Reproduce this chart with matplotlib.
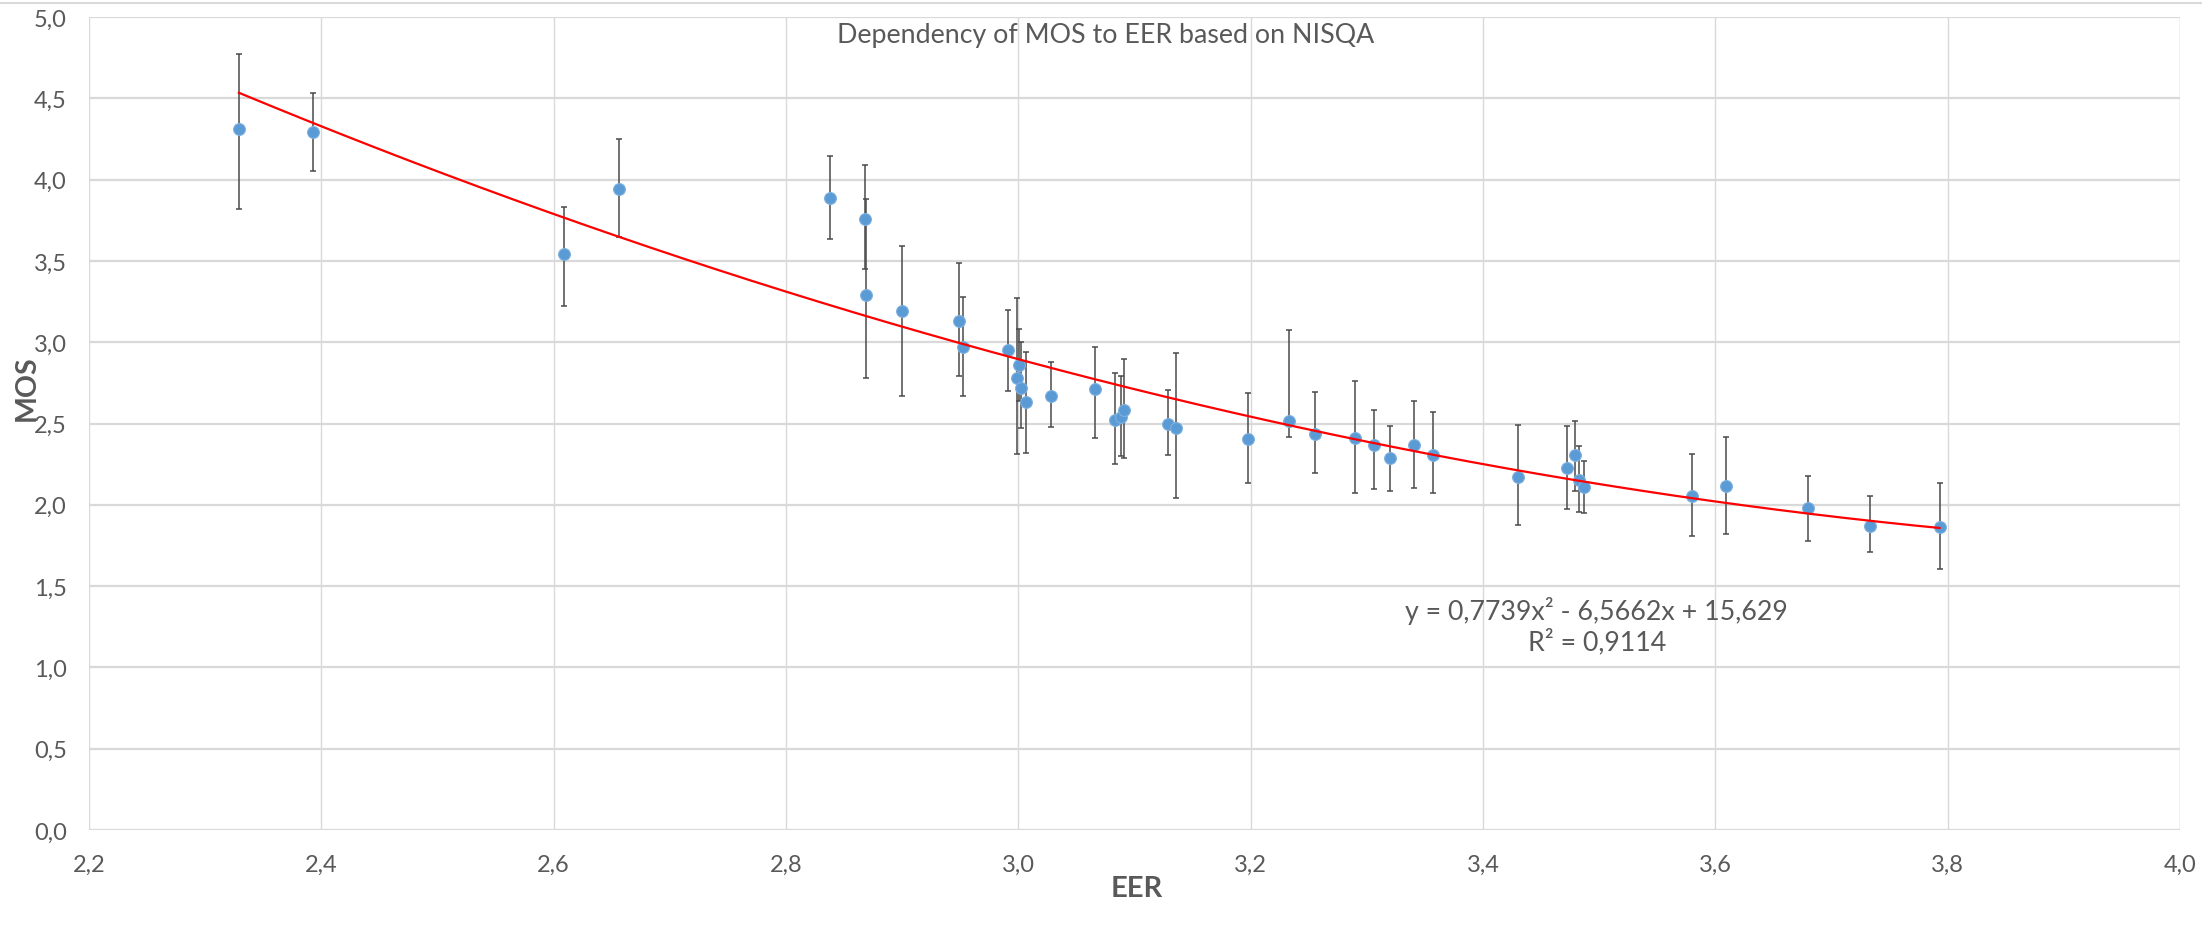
# MOS vs EER (NISQA) scatter with error bars and a 2nd order trend line

import numpy as np
from matplotlib import pyplot as plt
from matplotlib.lines import Line2D

plt.rcParams['font.family'] = ['Lato', 'DejaVu Sans']

# data
eer = [2.329, 2.393, 2.609, 2.656, 2.838, 2.868, 2.869, 2.900, 2.949, 2.952,
       2.991, 3.001, 2.999, 3.002, 3.007, 3.028, 3.066, 3.083, 3.088, 3.091,
       3.129, 3.136, 3.198, 3.233, 3.255, 3.290, 3.306, 3.320, 3.341, 3.357,
       3.430, 3.472, 3.479, 3.483, 3.487, 3.580, 3.609, 3.680, 3.733, 3.793]
mos = [4.31, 4.29, 3.54, 3.94, 3.885, 3.76, 3.29, 3.19, 3.13, 2.97,
       2.95, 2.86, 2.78, 2.72, 2.63, 2.67, 2.71, 2.52, 2.54, 2.585,
       2.495, 2.47, 2.405, 2.515, 2.433, 2.413, 2.37, 2.286, 2.366, 2.308,
       2.173, 2.226, 2.306, 2.154, 2.111, 2.056, 2.114, 1.978, 1.872, 1.865]
err_up = [0.46, 0.24, 0.29, 0.31, 0.26, 0.33, 0.59, 0.40, 0.36, 0.31,
          0.25, 0.22, 0.49, 0.28, 0.31, 0.21, 0.26, 0.29, 0.25, 0.31,
          0.21, 0.465, 0.28, 0.56, 0.26, 0.35, 0.215, 0.20, 0.27, 0.26,
          0.32, 0.26, 0.21, 0.21, 0.16, 0.255, 0.305, 0.20, 0.18, 0.27]
err_down = [0.49, 0.24, 0.32, 0.29, 0.25, 0.31, 0.51, 0.52, 0.34, 0.30,
            0.25, 0.22, 0.47, 0.25, 0.31, 0.19, 0.30, 0.27, 0.24, 0.30,
            0.19, 0.43, 0.27, 0.10, 0.24, 0.34, 0.27, 0.20, 0.26, 0.235,
            0.30, 0.25, 0.22, 0.20, 0.16, 0.25, 0.295, 0.20, 0.16, 0.26]

# trend line coefficients as printed on the chart
coef = [0.7739, -6.5662, 15.629]
r2 = 0.9114

x_ticks = [2.2, 2.4, 2.6, 2.8, 3.0, 3.2, 3.4, 3.6, 3.8, 4.0]
y_ticks = [0.0, 0.5, 1.0, 1.5, 2.0, 2.5, 3.0, 3.5, 4.0, 4.5, 5.0]

grey = '#595959'
grid_col = '#d9d9d9'

fig = plt.figure(figsize=(22.02, 9.37), dpi=100)
ax = fig.add_axes([89/2202, 1 - 831/937, (2180-89)/2202, (831-18)/937])

ax.errorbar(eer, mos, yerr=[err_down, err_up], fmt='none', ecolor='#4a4a4a',
            elinewidth=1.1, capsize=2.4, capthick=1.1, zorder=2)
ax.plot(eer, mos, 'o', color='#5b9bd5', markersize=8.5, markeredgecolor='#7eb0de',
        markeredgewidth=0.8, zorder=3)

xs = np.linspace(min(eer), max(eer), 200)
ax.plot(xs, np.polyval(coef, xs), color='#ff0000', lw=1.6, zorder=4)

ax.set_xlim(2.2, 4.0)
ax.set_ylim(0, 5.0)
ax.set_xticks(x_ticks)
ax.set_yticks(y_ticks)
ax.set_xticklabels([f'{v:.1f}'.replace('.', ',') for v in x_ticks])
ax.set_yticklabels([f'{v:.1f}'.replace('.', ',') for v in y_ticks])
ax.tick_params(axis='both', length=0, colors=grey, labelsize=17)
ax.tick_params(axis='x', pad=17)
ax.tick_params(axis='y', pad=16)
for s in ax.spines.values():
    s.set_visible(False)
ax.set_axisbelow(True)
ax.yaxis.grid(True, color=grid_col, lw=1.6)
ax.xaxis.grid(True, color=grid_col, lw=1.0)
ax.axvline(4.0, color=grid_col, lw=1.0, zorder=0)

eq = 'y = {}x² - {}x + {}\nR² = {}'.format(
    str(coef[0]).replace('.', ','), str(-coef[1]).replace('.', ','),
    str(coef[2]).replace('.', ','), str(r2).replace('.', ','))
ax.text(3.498, 1.26, eq, ha='center', va='center', fontsize=19.3,
        color=grey, linespacing=1.15)

fig.text(1106/2202, 1 - 43/937, 'Dependency of MOS to EER based on NISQA',
         ha='center', va='baseline', fontsize=19.3, color=grey)
fig.text(27/2202, 1 - 388/937, 'MOS', rotation=90, ha='center', va='center',
         fontsize=20.5, fontweight='bold', color=grey)
fig.text(1137/2202, 1 - 889/937, 'EER', ha='center', va='center',
         fontsize=21, fontweight='bold', color=grey)

# thin frame line at the very top of the chart area
fig.add_artist(Line2D([0, 1], [1 - 3.5/937, 1 - 3.5/937], color=grid_col, lw=1.5))

fig.savefig('out.png', dpi=100, facecolor='white')
